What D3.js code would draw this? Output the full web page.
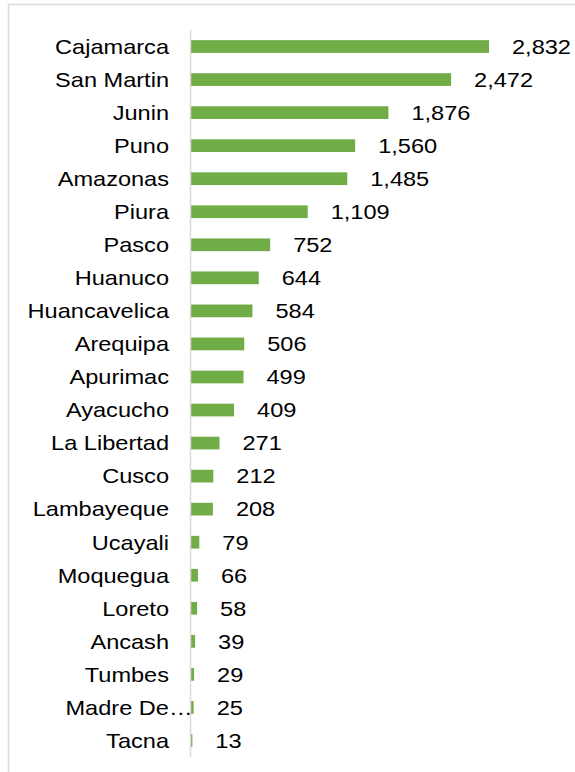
<!DOCTYPE html>
<html>
<head>
<meta charset="utf-8">
<script src="https://cdn.jsdelivr.net/npm/d3@7"></script>
<style>
  body { margin: 0; background: #fff; }
  text { font-family: "Liberation Sans", Arial, sans-serif; fill: #000; }
</style>
</head>
<body>
<div id="chart"></div>
<script>
// regions, top to bottom
const regions = ["Cajamarca", "San Martin", "Junin", "Puno", "Amazonas", "Piura", "Pasco",
    "Huanuco", "Huancavelica", "Arequipa", "Apurimac", "Ayacucho", "La Libertad", "Cusco",
    "Lambayeque", "Ucayali", "Moquegua", "Loreto", "Ancash", "Tumbes", "Madre De…", "Tacna"];
const counts = [2832, 2472, 1876, 1560, 1485, 1109, 752, 644, 584, 506, 499, 409, 271,
    212, 208, 79, 66, 58, 39, 29, 25, 13];

const width = 575, height = 772;
const axisX = 190.5;
const stretch = 1.15; // the text in the picture is a bit wide

let svg = d3.select('#chart').append('svg')
    .attr('width', width).attr('height', height);

// chart frame (cut off on the right and bottom)
svg.append('path')
    .attr('d', `M8.5,${height} V4.5 H${width}`)
    .attr('fill', 'none').attr('stroke', '#d9d9d9').attr('stroke-width', 1.5);

let data = regions.map((r, i) => ({ region: r, value: counts[i] }));

let y = d3.scaleBand().domain(regions).range([30, 757]).paddingInner(0.615).paddingOuter(0.3075);
let x = d3.scaleLinear().domain([0, 2832]).range([191, 489]);

svg.selectAll('rect.bar')
    .data(data).enter().append('rect').classed('bar', true)
    .attr('x', x(0))
    .attr('y', d => y(d.region))
    .attr('width', d => x(d.value) - x(0))
    .attr('height', y.bandwidth())
    .attr('fill', '#70ad47');

// category axis line
svg.append('line')
    .attr('x1', axisX).attr('x2', axisX)
    .attr('y1', 30).attr('y2', 757)
    .attr('stroke', '#d9d9d9').attr('stroke-width', 1.5);

let mid = d => y(d.region) + y.bandwidth() / 2;
let fmt = d3.format(',');

svg.selectAll('text.cat')
    .data(data).enter().append('text').classed('cat', true)
    .attr('text-anchor', 'end')
    .attr('font-size', '20.5px')
    .attr('transform', d => {
        // truncated label runs up to the axis
        let tx = d.region.endsWith('…') ? axisX + 2 : 169;
        return `translate(${tx},${mid(d) + 7.3}) scale(${stretch},1)`;
    })
    .text(d => d.region);

svg.selectAll('text.val')
    .data(data).enter().append('text').classed('val', true)
    .attr('text-anchor', 'start')
    .attr('font-size', '20.5px')
    .attr('transform', d => `translate(${x(d.value) + 23},${mid(d) + 7.3}) scale(${stretch},1)`)
    .text(d => fmt(d.value));
</script>
</body>
</html>
